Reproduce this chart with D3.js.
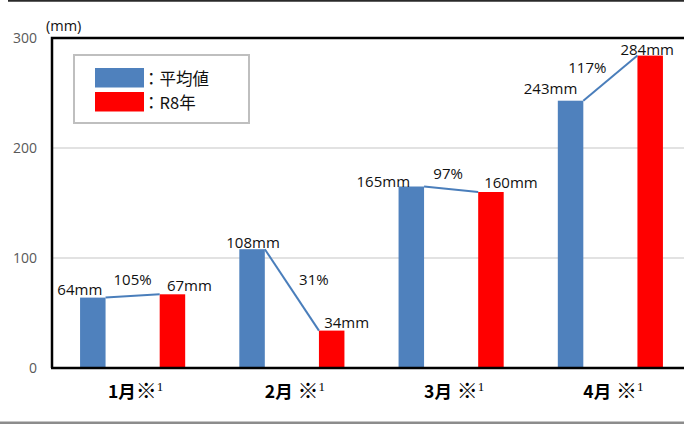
<!DOCTYPE html>
<html>
<head>
<meta charset="utf-8">
<script src="https://cdn.jsdelivr.net/npm/d3@7"></script>
<style>
  html, body { margin: 0; padding: 0; background: #fff; }
  svg { display: block; }
</style>
</head>
<body>
<div id="chart"></div>
<script>
(function () {
  // Data
  const months = ['1月', '2月', '3月', '4月'];
  const monthNotes = ['※', ' ※', ' ※', ' ※'];
  const noteNumber = '1';
  const series = ['平均値', 'R8年'];
  const avgValues = [64, 108, 165, 243];
  const r8Values = [67, 34, 160, 284];
  const ratioLabels = ['105%', '31%', '97%', '117%'];
  const yTicks = [0, 100, 200, 300];
  const unitLabel = '(mm)';

  // Hand-placed label nudges (Excel labels were dragged), px offsets
  const avgLabelNudge = [[-13, -8], [1, -7], [-28, -5], [-20, -12]];
  const r8LabelNudge = [[17, -9], [15, -8], [20, -9], [-3, -6]];
  const ratioLabelNudge = [[0, -16], [22, -10], [-3, -16], [-23, -10]];

  const W = 684, H = 424;
  const margin = { top: 38, left: 53, bottom: 56 };
  const innerH = H - margin.top - margin.bottom;
  const colors = { '平均値': '#4f81bd', 'R8年': '#ff0000' };
  const barW = 25.5;
  const numFont = '"Open Sans", "DejaVu Sans", sans-serif';
  const cjkFont = '"Noto Sans CJK JP", sans-serif';

  const svg = d3.select('#chart')
    .append('svg')
    .attr('width', W)
    .attr('height', H);

  // outer frame lines (top / bottom of the pasted figure)
  svg.append('line')
    .attr('x1', 8).attr('x2', W).attr('y1', 0.8).attr('y2', 0.8)
    .attr('stroke', '#2a2a2a').attr('stroke-width', 1.8);
  svg.append('line')
    .attr('x1', 0).attr('x2', W).attr('y1', 422.8).attr('y2', 422.8)
    .attr('stroke', '#8c8c8c').attr('stroke-width', 2.4);

  const x = d3.scaleBand()
    .domain(months)
    .range([margin.left, margin.left + 159.25 * months.length])
    .padding(0);

  const inner = d3.scaleBand()
    .domain(series)
    .range([0, x.bandwidth()]);

  const y = d3.scaleLinear()
    .domain([0, 300])
    .range([margin.top + innerH, margin.top]);

  const barCenter = (m, s) => x(m) + inner(s) + inner.bandwidth() / 2;

  // gridlines
  svg.append('g')
    .selectAll('line')
    .data(yTicks.filter(t => t > 0 && t < 300))
    .join('line')
    .attr('x1', margin.left).attr('x2', W)
    .attr('y1', d => y(d)).attr('y2', d => y(d))
    .attr('stroke', '#d9d9d9')
    .attr('stroke-width', 1.5);

  // y tick labels
  svg.append('g')
    .selectAll('text')
    .data(yTicks)
    .join('text')
    .attr('x', 37)
    .attr('y', d => y(d) + 5)
    .attr('text-anchor', 'end')
    .attr('font-family', numFont)
    .attr('font-size', 14)
    .attr('fill', '#595959')
    .text(d => d);

  svg.append('text')
    .attr('x', 46)
    .attr('y', 31)
    .attr('font-family', numFont)
    .attr('font-size', 14.5)
    .attr('fill', '#111')
    .text(unitLabel);

  // bars
  const barRows = months.map((m, i) => [
    { m, s: series[0], v: avgValues[i] },
    { m, s: series[1], v: r8Values[i] }
  ]).flat();

  svg.append('g')
    .selectAll('rect')
    .data(barRows)
    .join('rect')
    .attr('x', d => barCenter(d.m, d.s) - barW / 2)
    .attr('y', d => y(d.v))
    .attr('width', barW)
    .attr('height', d => y(0) - y(d.v))
    .attr('fill', d => colors[d.s]);

  // connector from avg bar top-right to R8 bar top-left
  svg.append('g')
    .selectAll('line')
    .data(months)
    .join('line')
    .attr('x1', (m) => barCenter(m, series[0]) + barW / 2)
    .attr('y1', (m, i) => y(avgValues[i]))
    .attr('x2', (m) => barCenter(m, series[1]) - barW / 2)
    .attr('y2', (m, i) => y(r8Values[i]))
    .attr('stroke', '#4a7ebb')
    .attr('stroke-width', 2);

  // plot frame: left, top, baseline
  svg.append('path')
    .attr('d', `M${margin.left - 1},${y(0)} V${margin.top} H${W}`)
    .attr('fill', 'none')
    .attr('stroke', '#000')
    .attr('stroke-width', 2.5);
  svg.append('line')
    .attr('x1', margin.left - 2).attr('x2', W)
    .attr('y1', y(0)).attr('y2', y(0))
    .attr('stroke', '#000')
    .attr('stroke-width', 2.5);

  // value labels
  const labels = svg.append('g')
    .attr('font-family', numFont)
    .attr('font-size', 15)
    .attr('fill', '#111')
    .attr('text-anchor', 'middle');

  labels.selectAll('text.avg')
    .data(avgValues)
    .join('text')
    .attr('class', 'avg')
    .attr('x', (d, i) => barCenter(months[i], series[0]) + avgLabelNudge[i][0])
    .attr('y', (d, i) => y(d) + avgLabelNudge[i][1] + 5.3)
    .text(d => `${d}mm`);

  labels.selectAll('text.r8')
    .data(r8Values)
    .join('text')
    .attr('class', 'r8')
    .attr('x', (d, i) => barCenter(months[i], series[1]) + r8LabelNudge[i][0])
    .attr('y', (d, i) => y(d) + r8LabelNudge[i][1] + 5.3)
    .text(d => `${d}mm`);

  labels.selectAll('text.ratio')
    .data(ratioLabels)
    .join('text')
    .attr('class', 'ratio')
    .attr('x', (d, i) => x(months[i]) + x.bandwidth() / 2 + ratioLabelNudge[i][0])
    .attr('y', (d, i) => (y(avgValues[i]) + y(r8Values[i])) / 2 + ratioLabelNudge[i][1] + 5.3)
    .text(d => d);

  // x category labels
  const xl = svg.append('g')
    .selectAll('text')
    .data(months)
    .join('text')
    .attr('x', m => x(m) + x.bandwidth() / 2 + 3)
    .attr('y', 398)
    .attr('text-anchor', 'middle')
    .attr('fill', '#000');

  xl.append('tspan')
    .attr('font-family', cjkFont)
    .attr('font-weight', 700)
    .attr('font-size', 17.5)
    .text(m => m);
  xl.append('tspan')
    .attr('font-family', cjkFont)
    .attr('font-weight', 400)
    .attr('font-size', 21)
    .text((m, i) => monthNotes[i]);
  xl.append('tspan')
    .attr('font-family', '"Liberation Serif", serif')
    .attr('font-size', 13)
    .attr('dy', -7)
    .text(noteNumber);

  // legend
  const legend = svg.append('g');
  legend.append('rect')
    .attr('x', 74).attr('y', 55)
    .attr('width', 175).attr('height', 68)
    .attr('fill', '#fff')
    .attr('stroke', '#bfbfbf')
    .attr('stroke-width', 2);

  const leg = legend.selectAll('g.item')
    .data(series)
    .join('g')
    .attr('class', 'item')
    .attr('transform', (d, i) => `translate(95,${68 + i * 24})`);

  leg.append('rect')
    .attr('width', 49)
    .attr('height', 19.5)
    .attr('fill', d => colors[d]);

  leg.append('text')
    .attr('x', 48)
    .attr('y', 16.5)
    .attr('font-family', cjkFont)
    .attr('font-size', 16.5)
    .attr('fill', '#111')
    .text(d => `：${d}`);
})();
</script>
</body>
</html>
